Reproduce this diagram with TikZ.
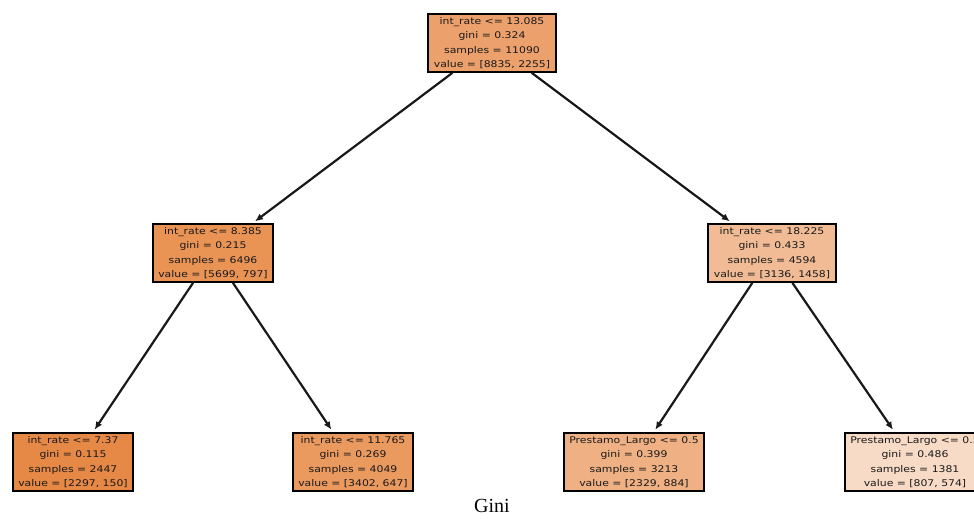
\documentclass[tikz,border=0pt]{standalone}
\usepackage{fontspec}
\usetikzlibrary{arrows.meta}
\newfontfamily\treefont[FakeStretch=1.18]{DejaVu Sans}
\newfontfamily\captionfont{Liberation Serif}
\definecolor{cRoot}{RGB}{236,161,108}
\definecolor{cLM}{RGB}{233,147,85}
\definecolor{cRM}{RGB}{241,188,149}
\definecolor{cLL}{RGB}{231,137,70}
\definecolor{cLR}{RGB}{234,153,95}
\definecolor{cRL}{RGB}{239,177,132}
\definecolor{cRR}{RGB}{248,219,198}
\tikzset{
  treenode/.style={draw=black, line width=2pt,
    align=center, inner xsep=5.5pt, inner ysep=3pt,
    font=\treefont\fontsize{9.2}{14.5}\selectfont, text=black!90},
  edge/.style={draw=black!90, line width=2.2pt,
    -{Latex[length=8pt,width=7pt]}, shorten >=3pt}
}
\begin{document}
\begin{tikzpicture}[x=1pt,y=-1pt]
  \useasboundingbox (0,0) rectangle (974,519);
  \clip (0,0) rectangle (974,519);
  \fill[white] (0,0) rectangle (974,519);

  \node[treenode, fill=cRoot] (root) at (492,43)
    {int\_rate <= 13.085\\gini = 0.324\\samples = 11090\\value = [8835, 2255]};
  \node[treenode, fill=cLM] (lm) at (213,253)
    {int\_rate <= 8.385\\gini = 0.215\\samples = 6496\\value = [5699, 797]};
  \node[treenode, fill=cRM] (rm) at (772,253)
    {int\_rate <= 18.225\\gini = 0.433\\samples = 4594\\value = [3136, 1458]};
  \node[treenode, fill=cLL] (ll) at (73,462)
    {int\_rate <= 7.37\\gini = 0.115\\samples = 2447\\value = [2297, 150]};
  \node[treenode, fill=cLR] (lr) at (353,462)
    {int\_rate <= 11.765\\gini = 0.269\\samples = 4049\\value = [3402, 647]};
  \node[treenode, fill=cRL] (rl) at (634,462)
    {Prestamo\_Largo <= 0.5\\gini = 0.399\\samples = 3213\\value = [2329, 884]};
  \node[treenode, fill=cRR] (rr) at (915,462)
    {Prestamo\_Largo <= 0.5\\gini = 0.486\\samples = 1381\\value = [807, 574]};

  \draw[edge] (root) -- (lm);
  \draw[edge] (root) -- (rm);
  \draw[edge] (lm) -- (ll);
  \draw[edge] (lm) -- (lr);
  \draw[edge] (rm) -- (rl);
  \draw[edge] (rm) -- (rr);

  \node[font=\captionfont\fontsize{20}{22}\selectfont, inner sep=0pt] (caption) at (492,506) {Gini};
\end{tikzpicture}
\end{document}
